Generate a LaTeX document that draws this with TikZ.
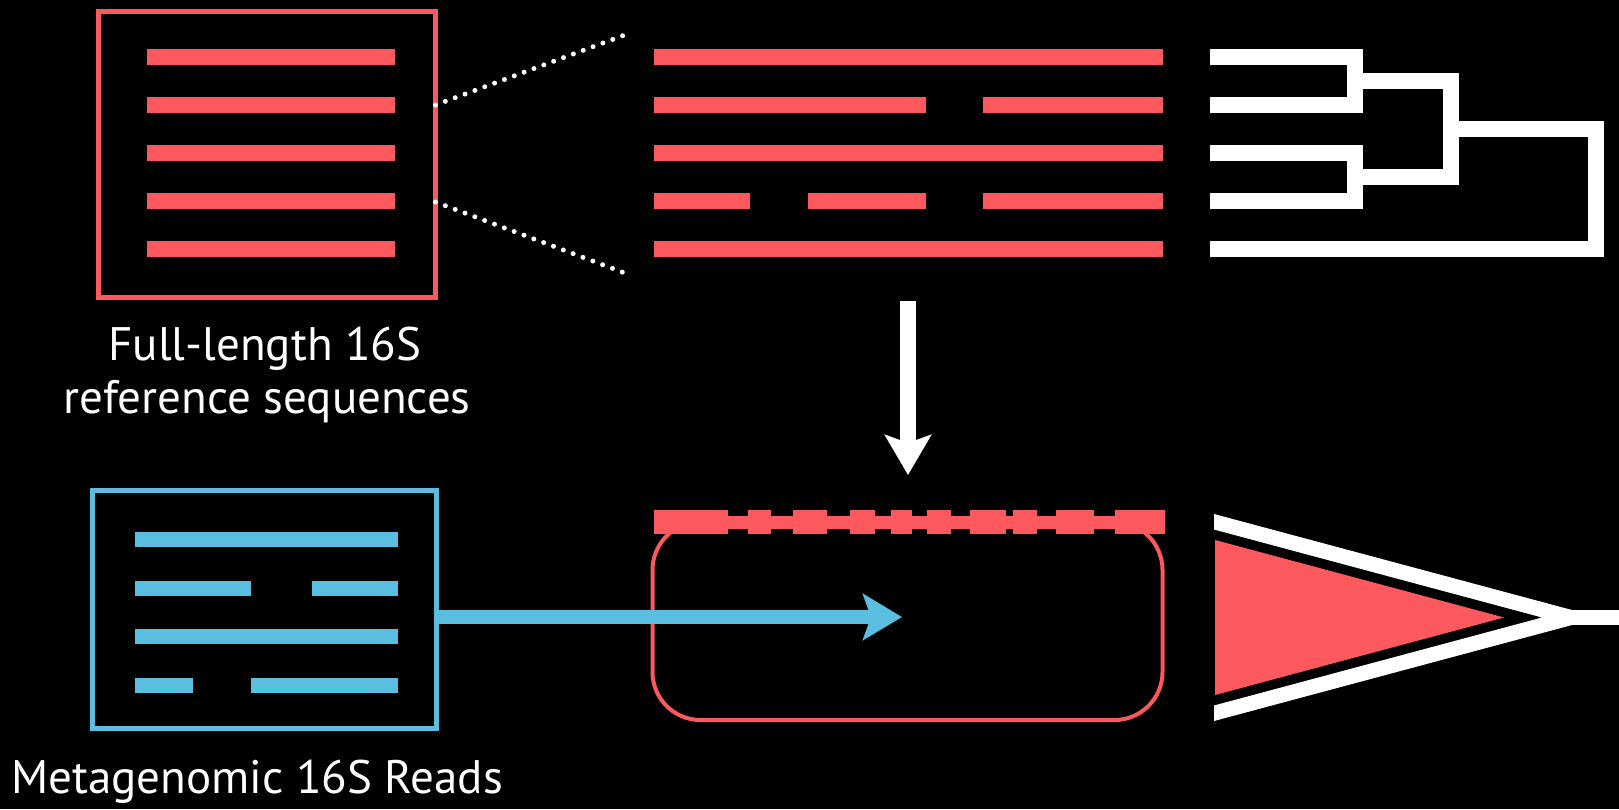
\documentclass[tikz,border=0pt]{standalone}
\usepackage{fontspec}
\setmainfont{PT Sans}
\usetikzlibrary{arrows.meta}
\definecolor{seqred}{RGB}{252,89,94}
\definecolor{readblue}{RGB}{90,190,225}
\begin{document}
\begin{tikzpicture}[x=1pt,y=-1pt,
  refbar/.style={seqred,line width=16pt},
  readbar/.style={readblue,line width=15pt},
  refframe/.style={draw=seqred,line width=5pt,inner sep=0pt,outer sep=0pt},
  readframe/.style={draw=readblue,line width=5pt,inner sep=0pt,outer sep=0pt},
  zoomline/.style={white,line width=5pt,line cap=round,dash pattern=on 0pt off 10.5pt},
  treeline/.style={white,line width=16pt,line join=miter},
  caption/.style={white,anchor=base,inner sep=0pt,font=\fontsize{47}{52}\selectfont},
  bigarrow/.style={line width=16pt,-{Stealth[length=40pt,width=46pt,inset=8pt]}}]

% background and page size
\fill[black] (0,0) rectangle (1619,809);
\useasboundingbox (0,0) rectangle (1619,809);

% ---- reference sequences box ----
\node[refframe,minimum width=337pt,minimum height=286pt] (ref) at (267,154) {};
\foreach \y in {57,105,153,201,249}
  \draw[refbar] (147,\y) -- (395,\y);
\node[caption] (reflabelA) at (265,360) {Full-length 16S};
\node[caption] (reflabelB) at (267,413) {reference sequences};

% ---- zoomed-in alignment ----
\coordinate (zoomtop) at (630,33);
\coordinate (zoombot) at (630,275);
\draw[zoomline] (ref.east |- 0,105) -- (zoomtop);
\draw[zoomline] (ref.east |- 0,202) -- (zoombot);

\draw[refbar] (654,57) -- (1163,57);
\draw[refbar] (654,105) -- (926,105);
\draw[refbar] (983,105) -- (1163,105);
\draw[refbar] (654,153) -- (1163,153);
\draw[refbar] (654,201) -- (750,201);
\draw[refbar] (808,201) -- (926,201);
\draw[refbar] (983,201) -- (1163,201);
\draw[refbar] (654,249) -- (1163,249);

% ---- tree ----
\draw[treeline] (1210,57) -- (1355,57) -- (1355,105) -- (1210,105);
\draw[treeline] (1210,153) -- (1355,153) -- (1355,201) -- (1210,201);
\draw[treeline] (1355,81) -- (1451,81) -- (1451,177) -- (1355,177);
\draw[treeline] (1451,129) -- (1596,129) -- (1596,249) -- (1210,249);

% ---- classifier ----
\node[draw=seqred,line width=4pt,rounded corners=48pt,minimum width=510pt,
      minimum height=198pt,inner sep=0pt] (classifier) at (907.5,621) {};
\draw[seqred,line width=13pt] (654,522) -- (1165,522);
\foreach \a/\b in {654/728,748/771,793/827,850/875,891/912,927/951,970/1006,1013/1037,1056/1094,1115/1165}
  \draw[seqred,line width=24pt] (\a,522) -- (\b,522);

% training arrow
\coordinate (trainfrom) at (908,301);
\coordinate (trainto) at (908,475);
\draw[bigarrow,white] (trainfrom) -- (trainto);

% ---- metagenomic reads box ----
\node[readframe,minimum width=344pt,minimum height=238pt] (reads) at (264.5,609.5) {};
\draw[readbar] (135,539) -- (398,539);
\draw[readbar] (135,588) -- (251,588);
\draw[readbar] (312,588) -- (398,588);
\draw[readbar] (135,636) -- (398,636);
\draw[readbar] (135,685) -- (193,685);
\draw[readbar] (251,685) -- (398,685);
\node[caption] (readslabel) at (257,793) {Metagenomic 16S Reads};

% query arrow
\coordinate (queryto) at (902,617);
\draw[readblue,line width=14pt,-{Stealth[length=39pt,width=46pt,inset=8pt]}]
  (reads.east |- queryto) -- (queryto);

% ---- output ----
\fill[seqred] (1215,540) -- (1215,695) -- (1504,617.5) -- cycle;
\begin{scope}
  \clip (1214,0) rectangle (1619,809);
  \draw[white,line width=15pt,line join=miter] (1200,518) -- (1571,617.5) -- (1200,717);
  \draw[white,line width=15pt] (1571,617.5) -- (1625,617.5);
\end{scope}
\end{tikzpicture}
\end{document}
